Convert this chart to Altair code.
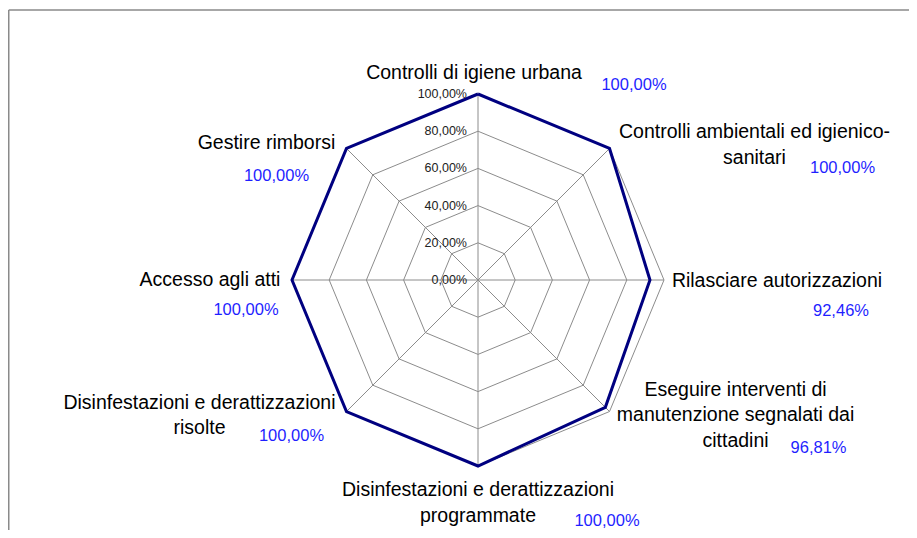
import math
import altair as alt
import pandas as pd

# ---------------- data ----------------
categories = [
    "Controlli di igiene urbana",
    "Controlli ambientali ed igienico-\nsanitari",
    "Rilasciare autorizzazioni",
    "Eseguire interventi di\nmanutenzione segnalati dai\ncittadini",
    "Disinfestazioni e derattizzazioni\nprogrammate",
    "Disinfestazioni e derattizzazioni\nrisolte",
    "Accesso agli atti",
    "Gestire rimborsi",
]
values = [1.0, 1.0, 0.9246, 0.9681, 1.0, 1.0, 1.0, 1.0]
value_labels = ["100,00%", "100,00%", "92,46%", "96,81%", "100,00%", "100,00%", "100,00%", "100,00%"]
ring_levels = [0.0, 0.2, 0.4, 0.6, 0.8, 1.0]
ring_labels = ["0,00%", "20,00%", "40,00%", "60,00%", "80,00%", "100,00%"]

# ---------------- layout (pixels) ----------------
W, H = 901, 522
CX, CY, R = 470, 272, 186          # centre and radius in plot pixels
# offsets (px) of the first text line from the 100% vertex of each spoke
cat_offsets = [(-4, -21), (145, -16), (113, 1), (126, -22), (0, 24), (-147, -9), (-82, 0), (-80, -5)]
val_offsets = [(156, -9), (233, 20), (177, 31), (209, 36), (129, 55), (-55, 24), (-46, 30), (-70, 28)]

xscale = alt.Scale(domain=[-CX / R, (W - CX) / R], nice=False, zero=False)
yscale = alt.Scale(domain=[-(H - CY) / R, CY / R], nice=False, zero=False)

n = len(categories)
ang = [2 * math.pi * i / n for i in range(n)]

def px(a, r):
    return r * math.sin(a)

def py(a, r):
    return r * math.cos(a)

# rings
ring_rows = []
for lv in ring_levels[1:]:
    for k in range(n + 1):
        a = ang[k % n]
        ring_rows.append({"ring": lv, "k": k, "x": px(a, lv), "y": py(a, lv)})
rings_df = pd.DataFrame(ring_rows)

# spokes
spoke_df = pd.DataFrame({"x": [0.0] * n, "y": [0.0] * n,
                         "x2": [px(a, 1.0) for a in ang], "y2": [py(a, 1.0) for a in ang]})

# data polygon
poly_rows = []
for k in range(n + 1):
    i = k % n
    poly_rows.append({"k": k, "x": px(ang[i], values[i]), "y": py(ang[i], values[i])})
poly_df = pd.DataFrame(poly_rows)

# labels
cat_df = pd.DataFrame({
    "label": categories,
    "x": [px(a, 1.0) + o[0] / R for a, o in zip(ang, cat_offsets)],
    "y": [py(a, 1.0) - o[1] / R for a, o in zip(ang, cat_offsets)],
})
val_df = pd.DataFrame({
    "label": value_labels,
    "x": [px(a, 1.0) + o[0] / R for a, o in zip(ang, val_offsets)],
    "y": [py(a, 1.0) - o[1] / R for a, o in zip(ang, val_offsets)],
})
tick_df = pd.DataFrame({"label": ring_labels, "x": [0.0] * len(ring_levels), "y": ring_levels})

X = lambda f="x": alt.X(f"{f}:Q", scale=xscale, axis=None)
Y = lambda f="y": alt.Y(f"{f}:Q", scale=yscale, axis=None)

rings = alt.Chart(rings_df).mark_line(color="#8c8c8c", strokeWidth=1).encode(
    x=X(), y=Y(), detail="ring:N", order="k:Q")
spokes = alt.Chart(spoke_df).mark_rule(color="#8c8c8c", strokeWidth=1).encode(
    x=X(), y=Y(), x2="x2:Q", y2="y2:Q")
poly = alt.Chart(poly_df).mark_line(color="#000080", strokeWidth=3, strokeJoin="miter").encode(
    x=X(), y=Y(), order="k:Q")
ticks = alt.Chart(tick_df).mark_text(align="right", baseline="middle", dx=-11, fontSize=12.5,
                                     font="Liberation Sans", color="#222222").encode(
    x=X(), y=Y(), text="label:N")
cats = alt.Chart(cat_df).mark_text(align="center", baseline="middle", fontSize=19.5, lineHeight=25.5,
                                   lineBreak="\n", font="Liberation Sans", color="#000000").encode(
    x=X(), y=Y(), text="label:N")
vals = alt.Chart(val_df).mark_text(align="center", baseline="middle", fontSize=16.5,
                                   font="Liberation Sans", color="#1f1fff").encode(
    x=X(), y=Y(), text="label:N")

frame_top = alt.Chart(pd.DataFrame({"a": [0]})).mark_rule(color="#8a8a8a", strokeWidth=1.5).encode(
    x=alt.value(0.75), x2=alt.value(W + 10), y=alt.value(2), y2=alt.value(2))
frame_left = alt.Chart(pd.DataFrame({"a": [0]})).mark_rule(color="#8a8a8a", strokeWidth=1.5).encode(
    x=alt.value(0.75), x2=alt.value(0.75), y=alt.value(2), y2=alt.value(H + 10))

chart = alt.layer(frame_top, frame_left, rings, spokes, poly, ticks, cats, vals).properties(
    width=W, height=H, padding=0, autosize="none"
).configure_view(stroke=None)

chart.save("out.html", embed_options={"renderer": "svg", "actions": False})
